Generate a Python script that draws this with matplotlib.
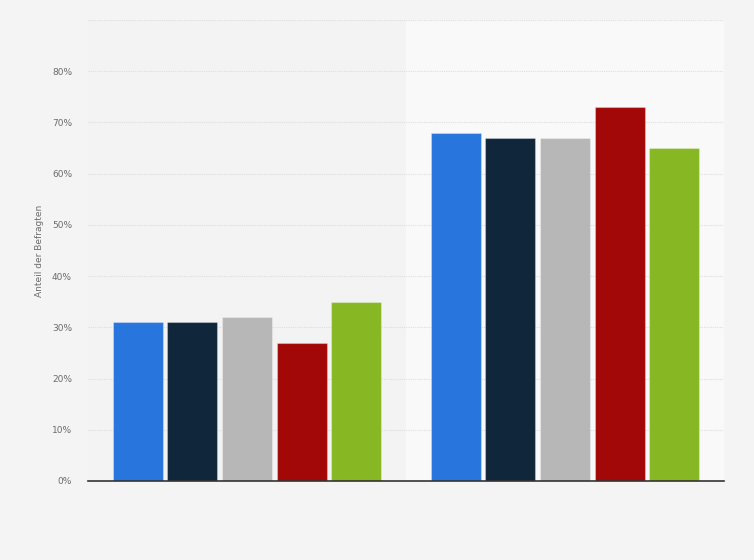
import matplotlib.pyplot as plt
import numpy as np

# groups (x categories, labels not shown in the chart) and series values in %
groups = ['Gruppe 1', 'Gruppe 2']
series_names = ['Serie 1', 'Serie 2', 'Serie 3', 'Serie 4', 'Serie 5']
series_values = [
    [31, 68],
    [31, 67],
    [32, 67],
    [27, 73],
    [35, 65],
]
colors = ['#2876dd', '#10263b', '#b7b7b7', '#a30808', '#87b823']
yticks = [0, 10, 20, 30, 40, 50, 60, 70, 80]

fig = plt.figure(figsize=(7.54, 5.60), dpi=100)
fig.patch.set_facecolor('#f4f4f4')
ax = fig.add_axes([88 / 754, 1 - 481 / 560, 636 / 754, 461 / 560])
ax.set_facecolor('#f3f3f3')

x = np.arange(len(groups))
step = 0.172
width = 0.157

# light band behind the second group
ax.axvspan(0.5, 1.5, color='#f9f9f9', zorder=0)

for i, (name, vals) in enumerate(zip(series_names, series_values)):
    ax.bar(x + (i - 2) * step, vals, width=width, color=colors[i],
           edgecolor=(1, 1, 1, 0.3), linewidth=0.8, label=name, zorder=3)

ax.set_xlim(-0.5, 1.5)
ax.set_ylim(0, 90)
ax.set_yticks(yticks)
ax.set_yticklabels([f'{v}%' for v in yticks], fontsize=6.5, color='#6b6b6b')
ax.set_xticks([])

# dotted grid, including the unlabeled top line at 90 %
for v in yticks[1:] + [90]:
    ax.axhline(v, color='#dedede', linestyle=(0, (1, 1)), linewidth=0.8, zorder=1)

for side in ['top', 'right', 'left']:
    ax.spines[side].set_visible(False)
ax.spines['bottom'].set_color('#333333')
ax.spines['bottom'].set_linewidth(1.2)
ax.spines['bottom'].set_zorder(4)
ax.tick_params(axis='y', length=0, pad=11.5)

ax.set_ylabel('Anteil der Befragten', fontsize=6.5, color='#6b6b6b', labelpad=6)

plt.savefig('out.png', dpi=100, facecolor=fig.get_facecolor())
